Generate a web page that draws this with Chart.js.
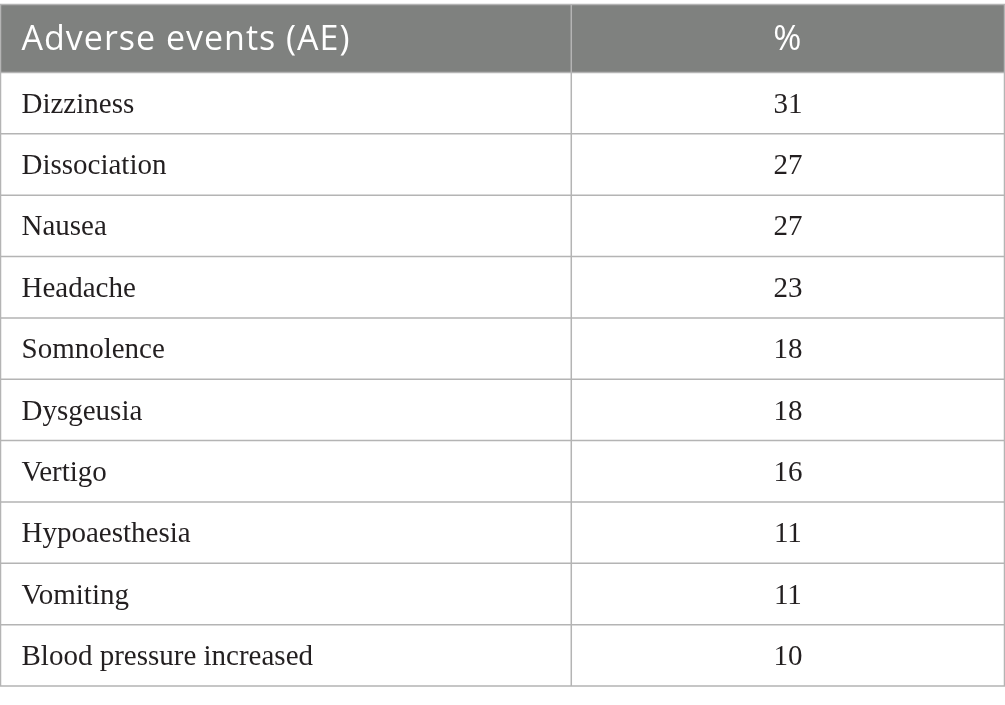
<!DOCTYPE html>
<html>
<head>
<meta charset="utf-8">
<script src="https://cdn.jsdelivr.net/npm/chart.js@4.4.1/dist/chart.umd.min.js"></script>
<style>
  html, body { margin: 0; padding: 0; background: #ffffff; }
  #wrap { width: 1005px; height: 705px; }
</style>
</head>
<body>
<div id="wrap"><canvas id="aeTable" width="1005" height="705"></canvas></div>
<script>
// table of adverse events, drawn on a chart.js canvas
const headers = ['Adverse events (AE)', '%'];
const events = [
    'Dizziness',
    'Dissociation',
    'Nausea',
    'Headache',
    'Somnolence',
    'Dysgeusia',
    'Vertigo',
    'Hypoaesthesia',
    'Vomiting',
    'Blood pressure increased'
];
const percents = [31, 27, 27, 23, 18, 18, 16, 11, 11, 10];

const lineColor = '#b4b4b4';
const headerFill = '#7f817f';
const textColor = '#231f20';
const splitAt = 0.5685; // share of width taken by the first column

const tablePlugin = {
    id: 'tablePlugin',
    afterDraw(chart) {
        const { ctx, chartArea, scales } = chart;
        const y = scales.y;
        const x = scales.x;
        const left = chartArea.left;
        const right = chartArea.right;
        const top = chartArea.top;
        const bottom = chartArea.bottom;
        const split = x.getPixelForValue(splitAt);
        const headTop = 4.5;

        ctx.save();
        // header
        ctx.fillStyle = headerFill;
        ctx.fillRect(left, headTop, right - left, top - headTop);
        ctx.fillStyle = '#ffffff';
        ctx.font = '34px "Open Sans"';
        ctx.letterSpacing = '1px';
        ctx.textBaseline = 'middle';
        ctx.textAlign = 'left';
        const headMid = (headTop + top) / 2 + 1.5;
        ctx.fillText(headers[0], left + 21, headMid);
        ctx.textAlign = 'center';
        ctx.fillText(headers[1], (split + right) / 2, headMid);
        ctx.letterSpacing = '0px';

        // rows
        ctx.fillStyle = textColor;
        ctx.font = '29px "Liberation Serif"';
        events.forEach((name, i) => {
            const py = y.getPixelForValue(i) + 2;
            ctx.textAlign = 'left';
            ctx.fillText(name, left + 21, py);
            ctx.textAlign = 'center';
            ctx.fillText(String(percents[i]), (split + right) / 2, py);
        });

        // grid
        ctx.strokeStyle = lineColor;
        ctx.lineWidth = 1.5;
        ctx.beginPath();
        ctx.moveTo(left, headTop);
        ctx.lineTo(right, headTop);
        ctx.lineTo(right, bottom);
        ctx.lineTo(left, bottom);
        ctx.closePath();
        for (let i = 0; i < events.length; i++) {
            const edge = y.getPixelForValue(i) - (y.getPixelForValue(1) - y.getPixelForValue(0)) / 2;
            ctx.moveTo(left, edge);
            ctx.lineTo(right, edge);
        }
        ctx.moveTo(split, headTop);
        ctx.lineTo(split, bottom);
        ctx.stroke();
        ctx.restore();
    }
};

const data = {
    labels: events,
    datasets: [{
        label: headers[1],
        data: percents,
        backgroundColor: 'rgba(0,0,0,0)'
    }]
};

const config = {
    type: 'bar',
    data: data,
    options: {
        indexAxis: 'y',
        responsive: false,
        animation: false,
        devicePixelRatio: 1,
        layout: {
            padding: { top: 72.5, bottom: 19, left: 0.5, right: 0.5 }
        },
        scales: {
            x: { display: false, min: 0, max: 1 },
            y: { display: false, offset: true }
        },
        plugins: {
            legend: { display: false },
            tooltip: { enabled: false }
        }
    },
    plugins: [tablePlugin]
};

const ctx = document.getElementById('aeTable');
const aeChart = new Chart(ctx, config);
</script>
</body>
</html>
